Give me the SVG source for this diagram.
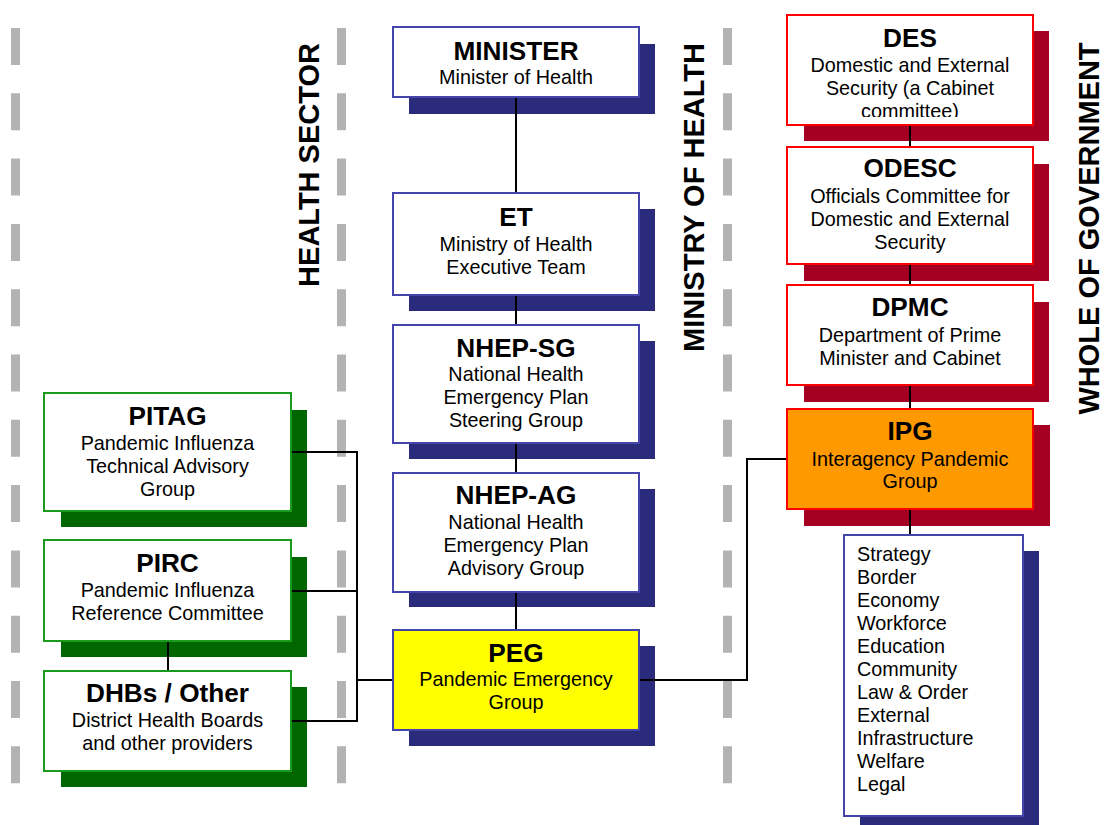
<svg xmlns="http://www.w3.org/2000/svg" width="1117" height="825" viewBox="0 0 1117 825">
<style>
.t{font-family:"Liberation Sans",Arial,sans-serif;font-weight:bold;font-size:26.2px;fill:#000;text-anchor:middle}
.s{font-family:"Liberation Sans",Arial,sans-serif;font-size:19.8px;fill:#000;text-anchor:middle}
.l{font-family:"Liberation Sans",Arial,sans-serif;font-size:19.8px;fill:#000}
.v{font-family:"Liberation Sans",Arial,sans-serif;font-weight:bold;font-size:29px;fill:#000;text-anchor:middle}
.bs{fill:#2B2B7B}
.rs{fill:#A50021}
.gs{fill:#006600}
.bb{fill:#fff;stroke:#4444AA;stroke-width:2}
.rb{fill:#fff;stroke:#FF0000;stroke-width:2}
.gb{fill:#fff;stroke:#1A9A1A;stroke-width:2}
.dash{stroke:#B3B3B3;stroke-width:9;stroke-dasharray:37 28.3;fill:none}
.c{stroke:#000;stroke-width:2;fill:none}
</style>
<defs>
<clipPath id="desclip"><rect x="787" y="15" width="246" height="102"/></clipPath>
</defs>
<rect width="1117" height="825" fill="#fff"/>
<g id="dividers">
<line class="dash" x1="15.5" y1="28" x2="15.5" y2="790"/>
<line class="dash" x1="341.5" y1="28" x2="341.5" y2="790"/>
<line class="dash" x1="727.5" y1="28" x2="727.5" y2="790"/>
</g>
<g id="labels">
<text class="v" transform="translate(319,165) rotate(-90)">HEALTH SECTOR</text>
<text class="v" transform="translate(704,197.5) rotate(-90)">MINISTRY OF HEALTH</text>
<text class="v" transform="translate(1099,228.5) rotate(-90)">WHOLE OF GOVERNMENT</text>
</g>
<g id="minister">
<rect class="bs" x="409" y="44" width="246" height="70"/>
<rect class="bb" x="393" y="27" width="246" height="70"/>
<text class="t" x="516" y="60">MINISTER</text>
<text class="s" x="516" y="84">Minister of Health</text>
</g>
<g id="et">
<rect class="bs" x="409" y="209" width="246" height="102"/>
<rect class="bb" x="393" y="193" width="246" height="102"/>
<text class="t" x="516" y="226">ET</text>
<text class="s" x="516" y="251">Ministry of Health</text>
<text class="s" x="516" y="273.5">Executive Team</text>
</g>
<g id="nhep-sg">
<rect class="bs" x="409" y="341" width="246" height="118"/>
<rect class="bb" x="393" y="325" width="246" height="118"/>
<text class="t" x="516" y="357">NHEP-SG</text>
<text class="s" x="516" y="381">National Health</text>
<text class="s" x="516" y="404">Emergency Plan</text>
<text class="s" x="516" y="427">Steering Group</text>
</g>
<g id="nhep-ag">
<rect class="bs" x="409" y="489" width="246" height="118"/>
<rect class="bb" x="393" y="473" width="246" height="119"/>
<text class="t" x="516" y="504">NHEP-AG</text>
<text class="s" x="516" y="529">National Health</text>
<text class="s" x="516" y="552">Emergency Plan</text>
<text class="s" x="516" y="575">Advisory Group</text>
</g>
<g id="peg">
<rect class="bs" x="409" y="646" width="246" height="100"/>
<rect class="bb" x="393" y="630" width="246" height="100" style="fill:#FFFF00"/>
<text class="t" x="516" y="662">PEG</text>
<text class="s" x="516" y="686">Pandemic Emergency</text>
<text class="s" x="516" y="708.5">Group</text>
</g>
<g id="pitag">
<rect class="gs" x="61" y="410" width="246" height="117"/>
<rect class="gb" x="44" y="393" width="247" height="118"/>
<text class="t" x="167.5" y="425">PITAG</text>
<text class="s" x="167.5" y="450">Pandemic Influenza</text>
<text class="s" x="167.5" y="473">Technical Advisory</text>
<text class="s" x="167.5" y="496">Group</text>
</g>
<g id="pirc">
<rect class="gs" x="61" y="557" width="246" height="100"/>
<rect class="gb" x="44" y="540" width="247" height="101"/>
<text class="t" x="167.5" y="572">PIRC</text>
<text class="s" x="167.5" y="597">Pandemic Influenza</text>
<text class="s" x="167.5" y="619.5">Reference Committee</text>
</g>
<g id="dhbs">
<rect class="gs" x="61" y="687" width="246" height="100"/>
<rect class="gb" x="44" y="671" width="247" height="100"/>
<text class="t" x="167.5" y="702">DHBs / Other</text>
<text class="s" x="167.5" y="727">District Health Boards</text>
<text class="s" x="167.5" y="749.5">and other providers</text>
</g>
<g id="des">
<rect class="rs" x="804" y="31" width="245" height="110"/>
<rect class="rb" x="787" y="15" width="246" height="110"/>
<text class="t" x="910" y="47">DES</text>
<text class="s" x="910" y="72">Domestic and External</text>
<text class="s" x="910" y="95">Security (a Cabinet</text>
<text class="s" x="910" y="118" clip-path="url(#desclip)">committee)</text>
</g>
<g id="odesc">
<rect class="rs" x="804" y="164" width="245" height="117"/>
<rect class="rb" x="787" y="147" width="246" height="117"/>
<text class="t" x="910" y="177">ODESC</text>
<text class="s" x="910" y="203">Officials Committee for</text>
<text class="s" x="910" y="226">Domestic and External</text>
<text class="s" x="910" y="249">Security</text>
</g>
<g id="dpmc">
<rect class="rs" x="804" y="302" width="245" height="100"/>
<rect class="rb" x="787" y="285" width="246" height="100"/>
<text class="t" x="910" y="316">DPMC</text>
<text class="s" x="910" y="342">Department of Prime</text>
<text class="s" x="910" y="364.5">Minister and Cabinet</text>
</g>
<g id="ipg">
<rect class="rs" x="804" y="425" width="246" height="101"/>
<rect class="rb" x="787" y="409" width="246" height="100" style="fill:#FF9900"/>
<text class="t" x="910" y="440">IPG</text>
<text class="s" x="910" y="466">Interagency Pandemic</text>
<text class="s" x="910" y="488">Group</text>
</g>
<g id="workstreams">
<rect class="bs" x="860" y="551" width="179" height="281"/>
<rect class="bb" x="844" y="535" width="179" height="281"/>
<text class="l" x="857" y="561">Strategy</text>
<text class="l" x="857" y="584">Border</text>
<text class="l" x="857" y="607">Economy</text>
<text class="l" x="857" y="630">Workforce</text>
<text class="l" x="857" y="653">Education</text>
<text class="l" x="857" y="676">Community</text>
<text class="l" x="857" y="698.5">Law &amp; Order</text>
<text class="l" x="857" y="721.5">External</text>
<text class="l" x="857" y="744.5">Infrastructure</text>
<text class="l" x="857" y="767.5">Welfare</text>
<text class="l" x="857" y="790.5">Legal</text>
</g>
<g id="connectors">
<line class="c" x1="516" y1="98" x2="516" y2="192"/>
<line class="c" x1="516" y1="296" x2="516" y2="324"/>
<line class="c" x1="516" y1="444" x2="516" y2="472"/>
<line class="c" x1="516" y1="593" x2="516" y2="629"/>
<line class="c" x1="910" y1="126" x2="910" y2="146"/>
<line class="c" x1="910" y1="265" x2="910" y2="284"/>
<line class="c" x1="910" y1="386" x2="910" y2="408"/>
<line class="c" x1="910" y1="510" x2="910" y2="534"/>
<polyline class="c" points="640,680 747,680 747,459 786,459"/>
<polyline class="c" points="292,452 357,452 357,721 292,721"/>
<line class="c" x1="292" y1="591" x2="357" y2="591"/>
<line class="c" x1="357" y1="680" x2="392" y2="680"/>
<line class="c" x1="168" y1="642" x2="168" y2="670"/>
</g>
</svg>
